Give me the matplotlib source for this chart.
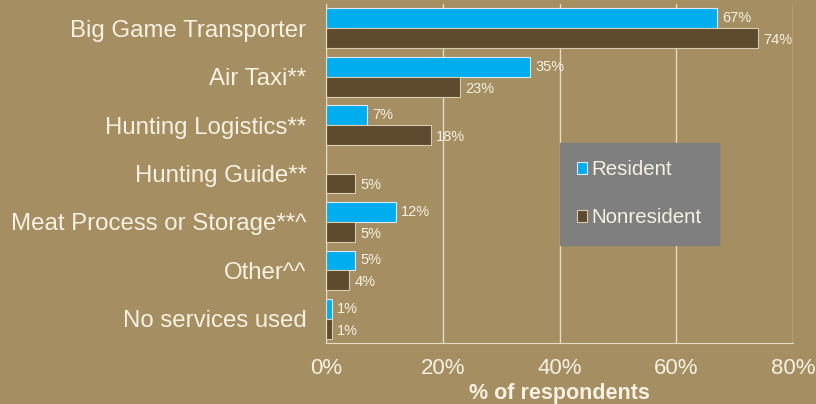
import numpy as np
import matplotlib.pyplot as plt

categories = ['Big Game Transporter', 'Air Taxi**', 'Hunting Logistics**', 'Hunting Guide**',
              'Meat Process or Storage**^', 'Other^^', 'No services used']
resident = [67, 35, 7, 0, 12, 5, 1]
nonresident = [74, 23, 18, 5, 5, 4, 1]

bg = '#A58E62'
blue = '#00AEEF'
brown = '#5E4A2C'
txt = '#F7F1E3'

plt.rcParams['font.family'] = ['Liberation Sans', 'DejaVu Sans']

fig = plt.figure(figsize=(8.16, 4.04), dpi=100, facecolor=bg)
ax = fig.add_axes([0.3995, 0.151, 0.5725, 0.839])
ax.set_facecolor(bg)

y = np.arange(len(categories))
h = 0.41
ax.barh(y - h / 2, resident, height=h, color=blue, edgecolor='#DDE8F0', linewidth=0.8)
ax.barh(y + h / 2, nonresident, height=h, color=brown, edgecolor='#D8CBB0', linewidth=0.8)

for i in range(len(categories)):
    if resident[i] > 0:
        ax.text(resident[i] + 0.9, y[i] - h / 2, f'{resident[i]}%', va='center', ha='left',
                color=txt, fontsize=10.5)
    ax.text(nonresident[i] + 0.9, y[i] + h / 2 + 0.04, f'{nonresident[i]}%', va='center', ha='left',
            color=txt, fontsize=10.5)

ax.set_xlim(0, 80)
ax.set_ylim(len(categories) - 0.5, -0.5)
ax.set_xticks([0, 20, 40, 60, 80])
ax.set_xticklabels(['0%', '20%', '40%', '60%', '80%'])
ax.set_yticks(y)
ax.set_yticklabels(categories)
ax.tick_params(axis='y', length=0, pad=14, labelsize=17.3, labelcolor=txt)
ax.tick_params(axis='x', length=0, pad=11, labelsize=16, labelcolor=txt)
ax.xaxis.grid(True, color='#E6DCC4', linewidth=1)
ax.set_axisbelow(True)
for s in ['top', 'right']:
    ax.spines[s].set_visible(False)
for s in ['left', 'bottom']:
    ax.spines[s].set_color('#E6DCC4')
ax.set_xlabel('% of respondents', color=txt, fontsize=15.5, fontweight='bold', labelpad=3)

leg = ax.legend(['Resident', 'Nonresident'], loc='upper left', bbox_to_anchor=(0.5, 0.59),
                frameon=True, fancybox=False, facecolor='#7F7F7F', edgecolor='#7F7F7F',
                framealpha=1, fontsize=14.8, handlelength=0.5, handleheight=0.5,
                handletextpad=0.2, labelspacing=1.4, borderpad=0.85, borderaxespad=0)
for t in leg.get_texts():
    t.set_color(txt)

fig.savefig('out.png', dpi=100, facecolor=bg)
